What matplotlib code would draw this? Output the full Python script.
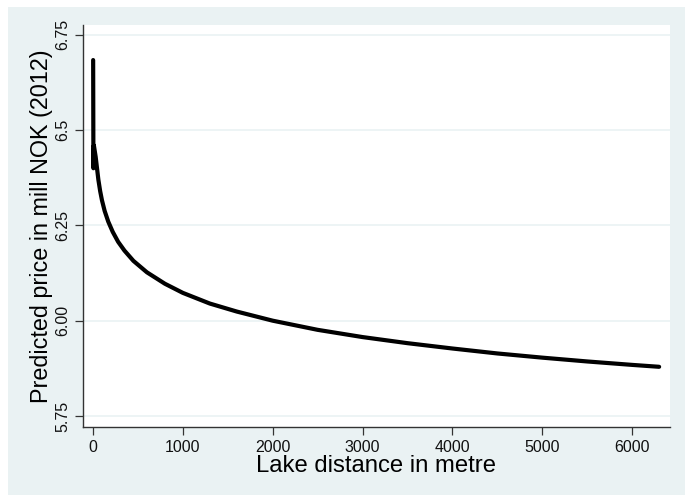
import matplotlib
matplotlib.use("Agg")
import matplotlib.pyplot as plt

# Data
distance = [2, 5, 10, 30, 45, 60, 80, 100, 130, 170, 220, 280, 350, 450,
            600, 800, 1000, 1300, 1600, 2000, 2500, 3000, 3500, 4000, 4500,
            5000, 5500, 6000, 6300]
price = [6.684, 6.400, 6.460, 6.430, 6.400, 6.370, 6.340, 6.316, 6.288,
         6.260, 6.233, 6.207, 6.184, 6.157, 6.127, 6.097, 6.073, 6.045, 6.024,
         6.000, 5.976, 5.957, 5.941, 5.927, 5.914, 5.903, 5.893, 5.884, 5.879]

xticks = [0, 1000, 2000, 3000, 4000, 5000, 6000]
xtick_labels = ["0", "1000", "2000", "3000", "4000", "5000", "6000"]
yticks = [5.75, 6.00, 6.25, 6.5, 6.75]
ytick_labels = ["5.75", "6.00", "6.25", "6.5", "6.75"]

plt.rcParams['font.family'] = ['Liberation Sans', 'DejaVu Sans']

W, H = 686, 495
fig = plt.figure(figsize=(W / 100, H / 100), dpi=100, facecolor="white")
bg = "#EAF2F3"
# Stata-like outer region
fig.patches.append(plt.Rectangle((8 / W, 0), (W - 9) / W, (H - 7) / H,
                                 transform=fig.transFigure, facecolor=bg,
                                 edgecolor="none", zorder=-10))

left, right, top, bottom = 83, 670, 25, 427
ax = fig.add_axes([left / W, 1 - bottom / H, (right - left) / W, (bottom - top) / H])
ax.set_facecolor("white")

ax.plot(distance, price, color="black", lw=3.0, solid_capstyle="round",
        solid_joinstyle="round", zorder=3)

ax.set_xlim(-111, 6421)
ax.set_ylim(5.721, 6.776)

ax.set_xticks(xticks)
ax.set_xticklabels(xtick_labels, fontsize=11.5)
ax.set_yticks(yticks)
ax.set_yticklabels(ytick_labels, fontsize=11.5, rotation=90, va="center")

ax.grid(axis="y", color="#EAF2F3", lw=1.2, zorder=0)
ax.grid(axis="x", visible=False)

for s in ["top", "right"]:
    ax.spines[s].set_visible(False)
for s in ["left", "bottom"]:
    ax.spines[s].set_color("#333333")
    ax.spines[s].set_linewidth(1.0)

ax.tick_params(axis="both", direction="out", length=6, width=0.9,
               color="#333333", labelcolor="#111111", pad=3)

ax.set_xlabel("Lake distance in metre", fontsize=17.2, labelpad=0)
ax.set_ylabel("Predicted price in mill NOK (2012)", fontsize=16.8, labelpad=2)

fig.savefig("out.png", dpi=100, facecolor="white")
